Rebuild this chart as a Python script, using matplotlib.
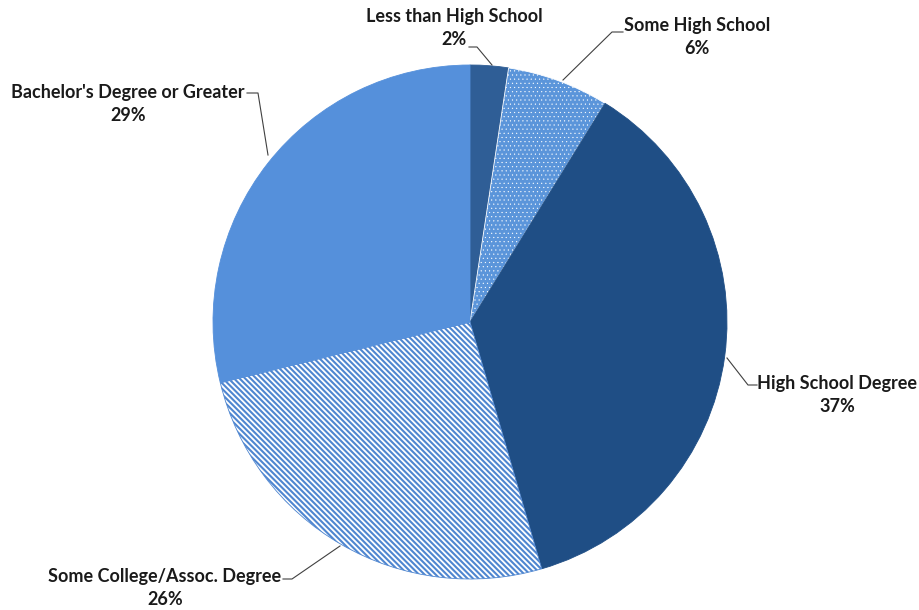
import matplotlib
matplotlib.use("Agg")
import matplotlib.pyplot as plt

categories = ["Less than High School", "Some High School", "High School Degree",
              "Some College/Assoc. Degree", "Bachelor's Degree or Greater"]
shares = [2.4, 6.4, 36.7, 25.7, 28.8]

fills = ["#2F5E96", "#5B95DA", "#1F4E85", "white", "#5590DB"]
hatch_cols = ["#2F5E96", "white", "#1F4E85", "#4F86D0", "#5590DB"]
hatches = [None, "....", None, "\\\\\\\\\\\\", None]
hatch_lw = [1.0, 0.3, 1.0, 1.5, 1.0]

# label anchor (text center) and leader line points, in pixel space
label_xy = [(454, 28), (697, 37), (837, 395), (165, 588), (128, 104)]
leaders = [[(469, 47), (477, 47), (492, 65)],
           [(623, 32), (612, 32), (563, 80)],
           [(757, 385), (748, 385), (727, 358)],
           [(283, 579), (292, 579), (340, 546)],
           [(247, 93), (258, 93), (268, 155)]]

plt.rcParams['font.family'] = ['Lato', 'DejaVu Sans']
plt.rcParams['hatch.linewidth'] = 1.5

fig = plt.figure(figsize=(9.2, 6.1), dpi=100)
ax = fig.add_axes([0, 0, 1, 1])

# y axis is inverted below, so start at 270 and go counterclockwise in data space
wedges, _ = ax.pie(shares, startangle=270, counterclock=True, center=(470, 322),
                   radius=257, colors=fills, frame=True)
ax.set_xlim(0, 920)
ax.set_ylim(610, 0)
ax.set_aspect('equal')
ax.axis('off')

for w, hc, h, hl in zip(wedges, hatch_cols, hatches, hatch_lw):
    w.set_edgecolor(hc)
    w.set_linewidth(0.6)
    if h:
        w.set_hatch(h)
        if hasattr(w, 'set_hatch_linewidth'):
            w.set_hatch_linewidth(hl)

for cat, val, (tx, ty), pts in zip(categories, shares, label_xy, leaders):
    ax.text(tx, ty, "%s\n%d%%" % (cat, round(val)), ha='center', va='center',
            fontsize=13, fontweight='bold', color='#1a1a1a', linespacing=1.45)
    xs = [p[0] for p in pts]
    ys = [p[1] for p in pts]
    ax.plot(xs, ys, color='#404040', lw=0.8)

fig.savefig("out.png", dpi=100)
